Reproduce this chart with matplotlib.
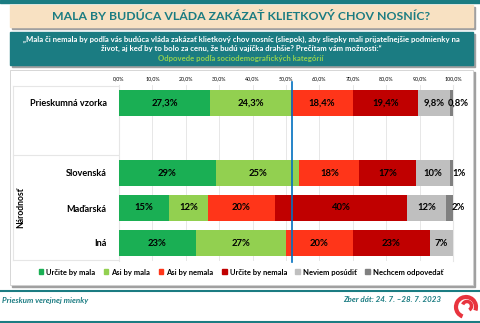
import matplotlib
matplotlib.use("Agg")
import matplotlib.pyplot as plt
from matplotlib.patches import Rectangle, Arc

plt.rcParams['font.family'] = ['Lato', 'DejaVu Sans']

# Dáta
kategorie = ["Prieskumná vzorka", "Slovenská", "Maďarská", "Iná"]
pozicie = [0, 2, 3, 4]
odpovede = ["Určite by mala", "Asi by mala", "Asi by nemala",
            "Určite by nemala", "Neviem posúdiť", "Nechcem odpovedať"]
hodnoty = [
    [27.3, 24.3, 18.4, 19.4, 9.8, 0.8],
    [29, 25, 18, 17, 10, 1],
    [15, 11.6, 20.1, 39.5, 11.7, 2.1],
    [23, 27, 20, 23, 7, 0],
]
desatiny = [1, 0, 0, 0]
farby = ["#1AAF54", "#92D050", "#FF3519", "#C00000", "#BFBFBF", "#808080"]
teal = "#1B7C82"

fig = plt.figure(figsize=(4.8, 3.23), dpi=100)

# pozadie a rámčeky (pixely)
bg = fig.add_axes([0, 0, 1, 1])
bg.set_xlim(0, 480)
bg.set_ylim(323, 0)
bg.axis("off")

bg.add_patch(Rectangle((0, 0), 480, 2.5, color=teal))
# titulok
bg.add_patch(Rectangle((12, 7), 463, 22, color="#A0A0A0"))
bg.add_patch(Rectangle((10, 5), 463, 22, color="#F8E1C2"))
bg.text(241, 16.5, "MALA BY BUDÚCA VLÁDA ZAKÁZAŤ KLIETKOVÝ CHOV NOSNÍC?",
        ha="center", va="center", fontsize=8.8, fontweight="bold", color=teal)
# otázka
bg.add_patch(Rectangle((12, 34), 463, 33, color="#A0A0A0"))
bg.add_patch(Rectangle((10, 32), 463, 33, color=teal))
bg.text(241, 39, "„Mala či nemala by podľa vás budúca vláda zakázať klietkový chov nosníc (sliepok), aby sliepky mali prijateľnejšie podmienky na",
        ha="center", va="center", fontsize=5.6, fontweight="bold", color="white")
bg.text(241, 48.5, "život, aj keď by to bolo za cenu, že budú vajíčka drahšie? Prečítam vám možnosti:“",
        ha="center", va="center", fontsize=5.6, fontweight="bold", color="white")
bg.text(241, 58, "Odpovede podľa sociodemografických kategórií",
        ha="center", va="center", fontsize=5.6, fontweight="bold", color="#92D050")
# panel grafu
bg.add_patch(Rectangle((12, 72), 463, 215, color="#A0A0A0"))
bg.add_patch(Rectangle((10, 70), 463, 215, facecolor="white", edgecolor="#D0D0D0", lw=0.6))

# tabuľka vľavo
bg.plot([13, 119], [86, 86], color="#E6E6E6", lw=0.8)
bg.plot([13, 119], [155, 155], color="#E6E6E6", lw=0.8)
bg.plot([13, 119], [260, 260], color="#E6E6E6", lw=0.8)
bg.plot([13, 13], [86, 260], color="#E6E6E6", lw=0.8)
bg.text(21, 208, "Národnosť", rotation=90, ha="center", va="center",
        fontsize=6.2, fontweight="bold", color="black")

# päta
bg.plot([0, 480], [291, 291], color=teal, lw=1.5)
bg.plot([0, 480], [321.5, 321.5], color=teal, lw=1.5)
bg.text(2, 300, "Prieskum verejnej mienky", ha="left", va="center",
        fontsize=5.8, style="italic", fontweight="bold", color=teal)
bg.text(441, 300, "Zber dát: 24. 7. –28. 7. 2023", ha="right", va="center",
        fontsize=5.8, style="italic", fontweight="bold", color=teal)
bg.add_patch(Arc((466, 307), 20, 20, theta1=110, theta2=20, color="#E8343E", lw=3))
bg.add_patch(Arc((467, 306), 9, 9, theta1=200, theta2=60, color="#E8343E", lw=2.5))

# graf
ax = fig.add_axes([119 / 480, 1 - 260.5 / 323, 334 / 480, 175 / 323])
ax.set_xlim(0, 100)
ax.set_ylim(4.5, -0.5)

for r, (pos, vals) in enumerate(zip(pozicie, hodnoty)):
    left = 0
    for i, v in enumerate(vals):
        ax.barh(pos, v, left=left, height=0.75, color=farby[i], zorder=3)
        if v > 0:
            txt = f"{v:.{desatiny[r]}f}%".replace(".", ",")
            if v < 3:
                ax.text(101.7, pos, txt, ha="center", va="center",
                        fontsize=6.8, fontweight="bold", clip_on=False, zorder=4)
            else:
                ax.text(left + v / 2, pos, txt, ha="center", va="center",
                        fontsize=6.8, fontweight="bold", zorder=4)
        left += v

ax.axvline(51.7, color="#0070C0", lw=1.2, zorder=5, ymin=-0.01, ymax=1.02, clip_on=False)

ax.set_xticks(range(0, 101, 10))
ax.set_xticklabels([f"{t},0%" for t in range(0, 101, 10)])
ax.xaxis.tick_top()
ax.tick_params(axis="x", length=0, labelsize=3.8, pad=3)
ax.grid(axis="x", color="#E3E3E3", lw=0.6, zorder=0)
ax.set_yticks(pozicie)
ax.set_yticklabels(kategorie, fontsize=6.6, fontweight="bold")
ax.tick_params(axis="y", length=0, pad=9)
for s in ["top", "bottom"]:
    ax.spines[s].set_visible(False)
ax.spines["left"].set_color("#E6E6E6")
ax.spines["right"].set_color("#E6E6E6")

# legenda
handles = [Rectangle((0, 0), 1, 1, color=c) for c in farby]
fig.legend(handles, odpovede, loc="center", bbox_to_anchor=(241 / 480, 1 - 272 / 323),
           ncol=6, frameon=False, handlelength=0.6, handleheight=0.6,
           handletextpad=0.4, columnspacing=1.1,
           prop={"weight": "bold", "size": 5.5})

fig.savefig("out.png", dpi=100)
